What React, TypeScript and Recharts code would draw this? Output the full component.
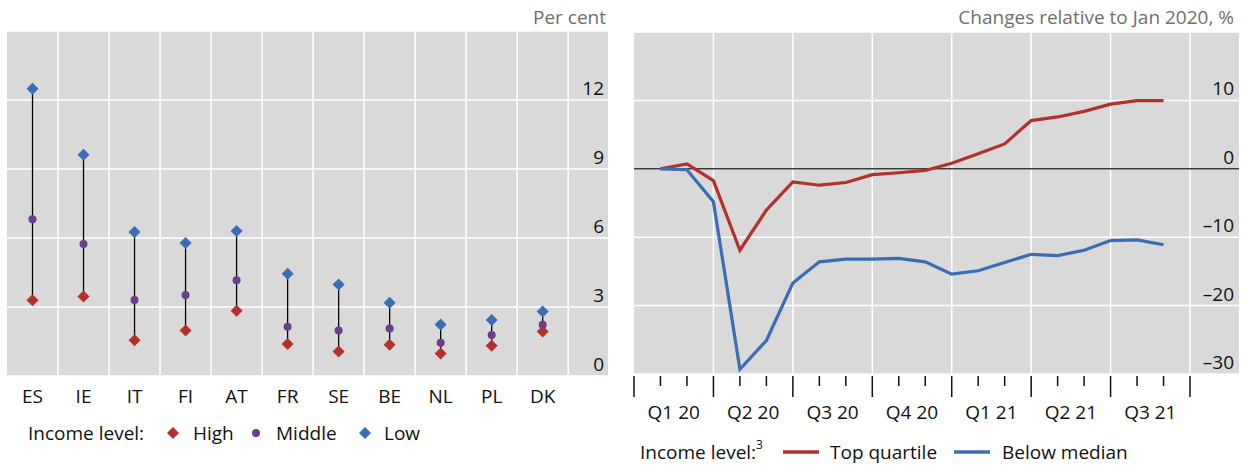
import React from 'react';
import { ComposedChart, LineChart, Line, XAxis, YAxis, CartesianGrid, ReferenceLine, ErrorBar } from 'recharts';

// left panel: per cent, by income level
const countries = ['ES', 'IE', 'IT', 'FI', 'AT', 'FR', 'SE', 'BE', 'NL', 'PL', 'DK'];
const highIncome = [3.29, 3.46, 1.55, 1.98, 2.84, 1.39, 1.06, 1.36, 0.98, 1.32, 1.93];
const middleIncome = [6.81, 5.74, 3.3, 3.52, 4.16, 2.14, 1.98, 2.06, 1.45, 1.78, 2.23];
const lowIncome = [12.49, 9.62, 6.26, 5.78, 6.3, 4.45, 3.98, 3.19, 2.24, 2.43, 2.8];
const leftTicks = [0, 3, 6, 9, 12, 15];

// right panel: changes relative to Jan 2020, %
const quarters = ['Q1 20', 'Q2 20', 'Q3 20', 'Q4 20', 'Q1 21', 'Q2 21', 'Q3 21'];
const months = [
  'Jan 20', 'Feb 20', 'Mar 20', 'Apr 20', 'May 20', 'Jun 20', 'Jul 20', 'Aug 20', 'Sep 20', 'Oct 20',
  'Nov 20', 'Dec 20', 'Jan 21', 'Feb 21', 'Mar 21', 'Apr 21', 'May 21', 'Jun 21', 'Jul 21', 'Aug 21',
];
const topQuartile = [0, 0.72, -1.73, -11.9, -6.04, -1.92, -2.4, -2.0, -0.86, -0.58, -0.24, 0.81, 2.2, 3.64, 7.05, 7.58, 8.4, 9.45, 9.97, 9.97];
const belowMedian = [0, -0.14, -4.8, -29.3, -25.1, -16.7, -13.6, -13.2, -13.2, -13.1, -13.6, -15.4, -14.9, -13.7, -12.5, -12.7, -11.9, -10.5, -10.4, -11.1];
const rightTicks = [-30, -20, -10, 0, 10, 20];

const FONT = "'Open Sans', sans-serif";
const RED = '#B3312D';
const PURPLE = '#693E8E';
const BLUE = '#3B6DB4';
const BG = '#D9D9D9';
const GREY_TEXT = '#6F6F6F';
const TEXT = '#111';
const FS = 19;

const leftData = countries.map((country, i) => ({
  pos: i + 0.5,
  country,
  high: highIncome[i],
  middle: middleIncome[i],
  low: lowIncome[i],
  span: [0, lowIncome[i] - highIncome[i]],
}));

const rightData = months.map((month, i) => ({
  t: i + 1,
  month,
  top: topQuartile[i],
  below: belowMedian[i],
}));

const diamondDot = (color: string, r: number) => (props: any) => {
  const { cx, cy, index } = props;
  if (cx == null || cy == null) return <g key={`d-${index}`} />;
  return (
    <path
      key={`d-${color}-${index}`}
      d={`M${cx},${cy - r}L${cx + r},${cy}L${cx},${cy + r}L${cx - r},${cy}Z`}
      fill={color}
    />
  );
};

const circleDot = (color: string, r: number) => (props: any) => {
  const { cx, cy, index } = props;
  if (cx == null || cy == null) return <g key={`c-${index}`} />;
  return <circle key={`c-${index}`} cx={cx} cy={cy} r={r} fill={color} />;
};

const YTick = ({ x, y, payload, hideValue }: any) => {
  if (payload.value === hideValue) return <g />;
  const label = payload.value < 0 ? `–${Math.abs(payload.value)}` : `${payload.value}`;
  return (
    <text x={x} y={y - 12} textAnchor="end" dominantBaseline="central" fill={TEXT} fontSize={FS} fontFamily={FONT}>
      {label}
    </text>
  );
};

const CountryTick = ({ x, y, payload }: any) => (
  <text x={x} y={y + 20} textAnchor="middle" dominantBaseline="central" fill={TEXT} fontSize={FS} fontFamily={FONT}>
    {countries[Math.floor(payload.value)]}
  </text>
);

const QuarterTick = ({ x, y, payload }: any) => {
  const v = payload.value;
  if (Number.isInteger(v)) {
    const len = v % 3 === 0 ? 21 : 10;
    return <line x1={x} x2={x} y1={y + 2} y2={y + 2 + len} stroke="#111" strokeWidth={1.5} />;
  }
  return (
    <text x={x} y={y + 38} textAnchor="middle" dominantBaseline="central" fill={TEXT} fontSize={FS} fontFamily={FONT}>
      {quarters[Math.floor(v / 3)]}
    </text>
  );
};

const monthTicks = Array.from({ length: quarters.length * 3 + 1 }, (_, i) => i);
const quarterMid = quarters.map((_, i) => i * 3 + 1.5);
const quarterBounds = quarters.map((_, i) => (i + 1) * 3);

const textAt = (left: number, top: number, extra: React.CSSProperties = {}): React.CSSProperties => ({
  position: 'absolute',
  left,
  top,
  transform: 'translateY(-50%)',
  fontSize: FS,
  color: TEXT,
  fontFamily: FONT,
  whiteSpace: 'nowrap',
  lineHeight: 1,
  ...extra,
});

const LeftPanel = () => (
  <div style={{ position: 'absolute', left: 0, top: 0, width: 620, height: 465 }}>
    <div style={{ position: 'absolute', right: 14, top: 4, fontSize: FS, color: GREY_TEXT, fontFamily: FONT }}>Per cent</div>
    <ComposedChart width={620} height={465} data={leftData} margin={{ top: 31, right: 12, bottom: 59, left: 7 }}>
      <CartesianGrid fill={BG} stroke="#fff" strokeWidth={1.5} vertical={false} horizontalValues={leftTicks} />
      {countries.map((c, i) => (
        <ReferenceLine key={c} x={i + 1} stroke="#fff" strokeWidth={1.5} />
      ))}
      <XAxis
        dataKey="pos"
        type="number"
        domain={[0, 11.78]}
        allowDataOverflow
        ticks={leftData.map((d) => d.pos)}
        interval={0}
        axisLine={false}
        tickLine={false}
        tickSize={0}
        tickMargin={0}
        height={30}
        tick={<CountryTick />}
      />
      <YAxis
        orientation="right"
        mirror
        type="number"
        domain={[0, 15]}
        allowDataOverflow
        ticks={leftTicks}
        interval={0}
        axisLine={false}
        tickLine={false}
        tickSize={0}
        tickMargin={4}
        tick={<YTick hideValue={15} />}
      />
      <Line dataKey="high" stroke="none" dot={false} activeDot={false} isAnimationActive={false}>
        <ErrorBar dataKey="span" direction="y" width={0} stroke="#000" strokeWidth={1.3} isAnimationActive={false} />
      </Line>
      <Line dataKey="high" stroke="none" dot={diamondDot(RED, 6)} activeDot={false} isAnimationActive={false} />
      <Line dataKey="middle" stroke="none" dot={circleDot(PURPLE, 4)} activeDot={false} isAnimationActive={false} />
      <Line dataKey="low" stroke="none" dot={diamondDot(BLUE, 6)} activeDot={false} isAnimationActive={false} />
    </ComposedChart>
    <span style={textAt(28, 433)}>Income level:</span>
    <svg width={14} height={14} style={{ position: 'absolute', left: 166, top: 426 }}><path d="M7,1L13,7L7,13L1,7Z" fill={RED} /></svg>
    <span style={textAt(193, 433)}>High</span>
    <svg width={10} height={10} style={{ position: 'absolute', left: 251, top: 428 }}><circle cx={5} cy={5} r={4} fill={PURPLE} /></svg>
    <span style={textAt(276, 433)}>Middle</span>
    <svg width={14} height={14} style={{ position: 'absolute', left: 358, top: 426 }}><path d="M7,1L13,7L7,13L1,7Z" fill={BLUE} /></svg>
    <span style={textAt(384, 433)}>Low</span>
  </div>
);

const RightPanel = () => (
  <div style={{ position: 'absolute', left: 620, top: 0, width: 621, height: 465 }}>
    <div style={{ position: 'absolute', right: 7, top: 4, fontSize: FS, color: GREY_TEXT, fontFamily: FONT, whiteSpace: 'nowrap' }}>
      Changes relative to Jan 2020, %
    </div>
    <LineChart width={621} height={465} data={rightData} margin={{ top: 32, right: 2, bottom: 61, left: 14 }}>
      <CartesianGrid fill={BG} stroke="#fff" strokeWidth={1.5} vertical={false} horizontalValues={rightTicks} />
      {quarterBounds.map((b) => (
        <ReferenceLine key={b} x={b} stroke="#fff" strokeWidth={1.5} />
      ))}
      <ReferenceLine y={0} stroke="#3a3a3a" strokeWidth={1.5} />
      <XAxis
        dataKey="t"
        type="number"
        domain={[0, 22.85]}
        allowDataOverflow
        ticks={[...monthTicks, ...quarterMid]}
        interval={0}
        axisLine={false}
        tickLine={false}
        tickSize={0}
        tickMargin={0}
        height={30}
        tick={<QuarterTick />}
      />
      <YAxis
        orientation="right"
        mirror
        type="number"
        domain={[-30, 20]}
        allowDataOverflow
        ticks={rightTicks}
        interval={0}
        axisLine={false}
        tickLine={false}
        tickSize={0}
        tickMargin={5}
        tick={<YTick hideValue={20} />}
      />
      <Line dataKey="top" stroke={RED} strokeWidth={3.2} dot={false} activeDot={false} isAnimationActive={false} />
      <Line dataKey="below" stroke={BLUE} strokeWidth={3.2} dot={false} activeDot={false} isAnimationActive={false} />
    </LineChart>
    <span style={textAt(20, 452)}>
      Income level:<sup style={{ fontSize: 12, verticalAlign: 'top', position: 'relative', top: -4 }}>3</sup>
    </span>
    <svg width={36} height={6} style={{ position: 'absolute', left: 163, top: 449 }}><line x1={0} x2={36} y1={3} y2={3} stroke={RED} strokeWidth={3.5} /></svg>
    <span style={textAt(210, 452)}>Top quartile</span>
    <svg width={36} height={6} style={{ position: 'absolute', left: 334, top: 449 }}><line x1={0} x2={36} y1={3} y2={3} stroke={BLUE} strokeWidth={3.5} /></svg>
    <span style={textAt(382, 452)}>Below median</span>
  </div>
);

export default function App() {
  return (
    <div style={{ position: 'absolute', left: 0, top: 0, width: 1241, height: 465, background: '#fff', overflow: 'hidden', fontFamily: FONT }}>
      <LeftPanel />
      <RightPanel />
    </div>
  );
}
